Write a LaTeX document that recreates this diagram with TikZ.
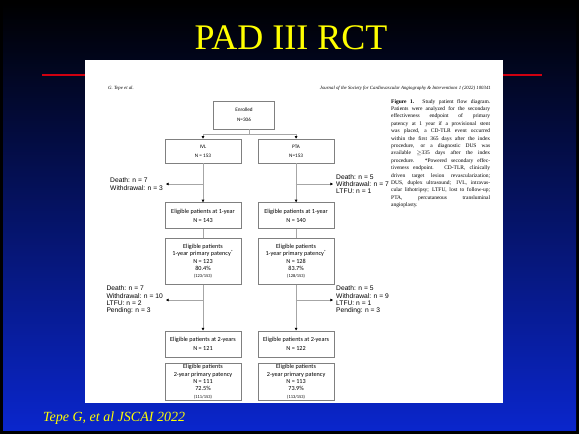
\documentclass[tikz,border=0pt]{standalone}
\usepackage{fontspec}
\setmainfont{Liberation Serif}
\newfontfamily\arialfont{Liberation Sans}
\newfontfamily\calibrifont{Carlito}
\usetikzlibrary{arrows.meta,positioning}
\definecolor{slideYellow}{HTML}{FFFF00}
\definecolor{slideBlue}{HTML}{0A26CC}
\definecolor{slideRed}{HTML}{D00010}
\definecolor{boxGray}{HTML}{808080}
\definecolor{lineGray}{HTML}{A6A6A6}
\newcommand{\ratiotext}[1]{{\fontsize{4.4}{5.5}\selectfont(#1)}}
\newcommand{\capline}[1]{\makebox[99pt][s]{#1}\\}
\tikzset{
  flowbox/.style={rectangle, draw=boxGray, line width=0.6pt, fill=white, align=center, minimum width=76pt, inner sep=1pt, font=\calibrifont\fontsize{6.2}{7.4}\selectfont},
  topbox/.style={flowbox, font=\calibrifont\fontsize{5.2}{9}\selectfont},
  losstext/.style={align=left, inner xsep=3pt, inner ysep=0pt, font=\arialfont\fontsize{6.7}{7.3}\selectfont},
  flowline/.style={draw=lineGray, line width=0.6pt},
  flowarrow/.style={flowline, -{Triangle[length=2.6pt,width=2.6pt,color=black]}},
  headtext/.style={inner sep=0pt, font=\itshape\fontsize{4.8}{5}\selectfont}
}
\begin{document}
\begin{tikzpicture}[x=1pt,y=-1pt]
% slide background
\fill[black] (0,0) rectangle (579,434);
\shade[top color=black, bottom color=slideBlue] (3,2) rectangle (576,430);
\useasboundingbox (0,0) rectangle (579,434);
\draw[slideRed, line width=2pt] (42,75) -- (542,75);
\fill[white] (85,60) rectangle (503,403);
\node[anchor=base, inner sep=0pt, text=slideYellow, font=\fontsize{36}{40}\selectfont] (title) at (291,49) {PAD III RCT};
\node[anchor=base west, inner sep=0pt, text=slideYellow, font=\itshape\fontsize{14}{16}\selectfont] (cite) at (43,421) {Tepe G, et al JSCAI 2022};
% page header
\node[headtext, anchor=west] (authors) at (108,88) {G. Tepe et al.};
\node[headtext, anchor=east] (journal) at (491,88) {Journal of the Society for Cardiovascular Angiography \& Interventions 1 (2022) 100341};
% flow diagram
\node[topbox, minimum width=61pt, minimum height=28pt] (enrolled) at (244,115) {Enrolled\\[1pt]N=306};
\node[topbox, minimum height=24pt] (ivl) at (203,151) {IVL\\N = 153};
\node[topbox, minimum height=24pt, right=16.5pt of ivl] (pta) {PTA\\N=153};
\node[flowbox, minimum height=26pt, below=39pt of ivl] (ivlone) {Eligible patients at 1-year\\[1.5pt]N = 143};
\node[flowbox, minimum height=26pt, below=39pt of pta] (ptaone) {Eligible patients at 1-year\\[1.5pt]N = 140};
\node[flowbox, minimum height=46pt, below=9pt of ivlone] (ivlpatone) {Eligible patients\\1-year primary patency\textsuperscript{*}\\N = 123\\80.4\%\\\ratiotext{123/153}};
\node[flowbox, minimum height=46pt, below=9pt of ptaone] (ptapatone) {Eligible patients\\1-year primary patency\textsuperscript{*}\\N = 128\\83.7\%\\\ratiotext{128/153}};
\node[flowbox, minimum height=26pt, below=46pt of ivlpatone] (ivltwo) {Eligible patients at 2-years\\[1.5pt]N = 121};
\node[flowbox, minimum height=26pt, below=46pt of ptapatone] (ptatwo) {Eligible patients at 2-years\\[1.5pt]N = 122};
\node[flowbox, minimum height=36pt, below=6pt of ivltwo] (ivlpattwo) {Eligible patients\\2-year primary patency\\N = 111\\72.5\%\\\ratiotext{111/153}};
\node[flowbox, minimum height=36pt, below=6pt of ptatwo] (ptapattwo) {Eligible patients\\2-year primary patency\\N = 113\\73.9\%\\\ratiotext{113/153}};
% losses
\node[losstext, anchor=east] (lossivlone) at (166,184) {Death: n = 7\\Withdrawal: n = 3};
\node[losstext, anchor=west] (lossptaone) at (333,184) {Death: n = 5\\Withdrawal: n = 7\\LTFU: n = 1};
\node[losstext, anchor=east] (lossivltwo) at (166,300) {Death: n = 7\\Withdrawal: n = 10\\LTFU: n = 2\\Pending: n = 3};
\node[losstext, anchor=west] (lossptatwo) at (333,300) {Death: n = 5\\Withdrawal: n = 9\\LTFU: n = 1\\Pending: n = 3};
% caption
\node[anchor=north west, align=left, inner sep=0pt, font=\fontsize{5.5}{7.4}\selectfont] (caption) at (391,99) {%
\capline{\textbf{Figure 1.} Study patient flow diagram.}
\capline{Patients were analyzed for the secondary}
\capline{effectiveness endpoint of primary}
\capline{patency at 1 year if a provisional stent}
\capline{was placed, a CD-TLR event occurred}
\capline{within the first 365 days after the index}
\capline{procedure, or a diagnostic DUS was}
\capline{available $\geq$335 days after the index}
\capline{procedure. *Powered secondary effec-}
\capline{tiveness endpoint. CD-TLR, clinically}
\capline{driven target lesion revascularization;}
\capline{DUS, duplex ultrasound; IVL, intravas-}
\capline{cular lithotripsy; LTFU, lost to follow-up;}
\capline{PTA, percutaneous transluminal}
angioplasty.};
% connectors
\coordinate (split) at (249,134);
\coordinate (bivlone) at (203,184);
\coordinate (bptaone) at (295.5,184);
\coordinate (bivltwo) at (203,300);
\coordinate (bptatwo) at (295.5,300);
\draw[flowline] (enrolled.south -| split) -- (split);
\draw[flowarrow] (split) -| (ivl.north);
\draw[flowarrow] (split) -| (pta.north);
\draw[flowarrow] (ivl) -- (ivlone);
\draw[flowarrow] (pta) -- (ptaone);
\draw[flowline] (ivlone) -- (ivlpatone);
\draw[flowline] (ptaone) -- (ptapatone);
\draw[flowarrow] (ivlpatone) -- (ivltwo);
\draw[flowarrow] (ptapatone) -- (ptatwo);
\draw[flowarrow] (bivlone) -- (lossivlone.east);
\draw[flowarrow] (bptaone) -- (lossptaone.west);
\draw[flowarrow] (bivltwo) -- (lossivltwo.east);
\draw[flowarrow] (bptatwo) -- (lossptatwo.west);
\end{tikzpicture}
\end{document}
